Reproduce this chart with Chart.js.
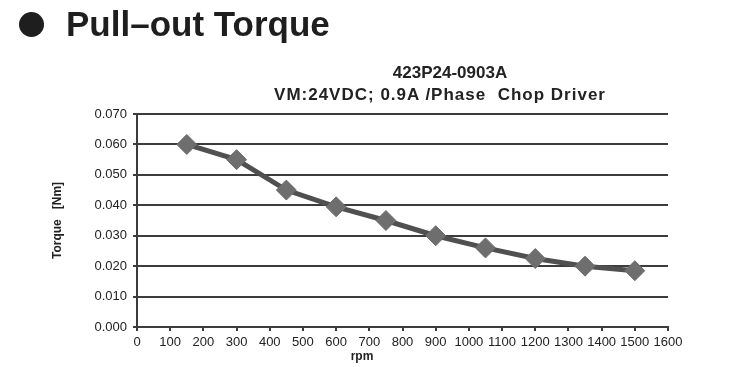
<!DOCTYPE html>
<html>
<head>
<meta charset="utf-8">
<script src="https://cdn.jsdelivr.net/npm/chart.js@4.4.1/dist/chart.umd.min.js"></script>
<style>
  body { margin: 0; background: #fff; }
  #wrap { position: relative; width: 750px; height: 367px; overflow: hidden; font-family: "Liberation Sans", Arial, sans-serif; color: #1e1e1e; }
  #chart { position: absolute; left: 0; top: 0; }
  .dot { position: absolute; left: 19px; top: 12px; width: 25px; height: 25px; border-radius: 50%; background: #1e1e1e; }
  .head { position: absolute; left: 66px; top: 4px; font-size: 35px; font-weight: bold; white-space: pre; }
  .ttl { position: absolute; left: 240px; width: 400px; text-align: center; font-size: 17px; font-weight: bold; white-space: pre; color: #222; }
  .xt { position: absolute; left: 340px; top: 349px; width: 44px; text-align: center; font-size: 12px; font-weight: bold; color: #222; }
</style>
</head>
<body>
<div id="wrap">
  <canvas id="chart" width="750" height="367"></canvas>
  <div class="dot"></div>
  <div class="head">Pull–out Torque</div>
  <div class="ttl" style="top:63px; left:250px">423P24-0903A</div>
  <div class="ttl" style="top:85px; letter-spacing:1px">VM:24VDC; 0.9A /Phase  Chop Driver</div>
  <div class="xt">rpm</div>
</div>
<script>
// values
const rpm = [150, 300, 450, 600, 750, 900, 1050, 1200, 1350, 1500];
const torque = [0.060, 0.055, 0.045, 0.0395, 0.035, 0.030, 0.026, 0.0225, 0.020, 0.0185];
const xTicks = [0, 100, 200, 300, 400, 500, 600, 700, 800, 900, 1000, 1100, 1200, 1300, 1400, 1500, 1600];
const yTicks = [0, 0.01, 0.02, 0.03, 0.04, 0.05, 0.06, 0.07];

const ink = '#3c3c3c';
const tickFont = { family: '"Liberation Sans", Arial, sans-serif', size: 13 };

const ctx = document.getElementById('chart').getContext('2d');
new Chart(ctx, {
  type: 'line',
  data: {
    datasets: [{
      data: rpm.map((r, i) => ({ x: r, y: torque[i] })),
      borderColor: '#505050',
      borderWidth: 5,
      tension: 0,
      pointStyle: 'rectRot',
      pointRadius: 10,
      pointBackgroundColor: '#6e6e6e',
      pointBorderColor: '#6e6e6e',
      pointBorderWidth: 1
    }]
  },
  options: {
    responsive: false,
    animation: false,
    layout: { padding: { left: 45, right: 82, top: 114, bottom: 4 } },
    plugins: { legend: { display: false }, tooltip: { enabled: false } },
    scales: {
      x: {
        type: 'linear',
        min: xTicks[0],
        max: xTicks[xTicks.length - 1],
        afterBuildTicks: s => { s.ticks = xTicks.map(v => ({ value: v })); },
        afterFit: s => { s.height = 36; },
        grid: { drawOnChartArea: false, drawTicks: true, tickLength: 4, color: ink, lineWidth: 2 },
        border: { display: true, color: ink, width: 2 },
        ticks: { color: '#222', font: tickFont, padding: 4, maxRotation: 0, autoSkip: false, callback: v => String(v) }
      },
      y: {
        min: yTicks[0],
        max: yTicks[yTicks.length - 1],
        afterBuildTicks: s => { s.ticks = yTicks.map(v => ({ value: v })); },
        afterFit: s => { s.width = 92; },
        grid: { color: ink, lineWidth: 2, drawTicks: true, tickLength: 4 },
        border: { display: true, color: ink, width: 2 },
        ticks: { color: '#222', font: tickFont, padding: 6, callback: v => v.toFixed(3) },
        title: {
          display: true,
          text: 'Torque   [Nm]',
          color: '#222',
          font: { family: '"Liberation Sans", Arial, sans-serif', size: 12, weight: 'bold' },
          padding: { top: 5, bottom: 0 }
        }
      }
    }
  }
});
</script>
</body>
</html>
